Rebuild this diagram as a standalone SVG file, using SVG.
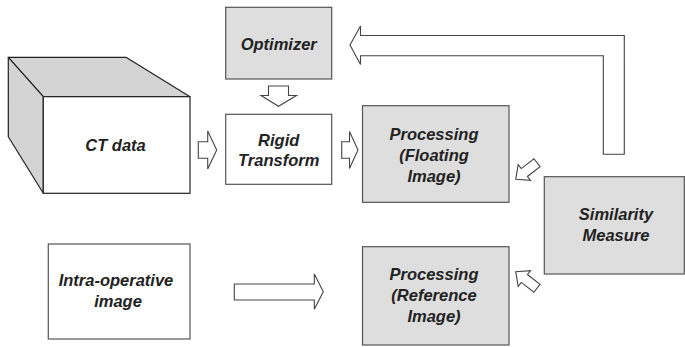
<svg xmlns="http://www.w3.org/2000/svg" width="685" height="347" viewBox="0 0 685 347">
<style>
.box{stroke:#555;stroke-width:1.2}
.w{fill:#fff}
.g{fill:#dedede}
.arr{fill:#fff;stroke:#444;stroke-width:1.1;stroke-linejoin:miter}
text{font-family:"Liberation Sans",Arial,sans-serif;font-weight:bold;font-style:italic;font-size:16.5px;fill:#222;text-anchor:middle}
</style>
<defs>
<path id="small" d="M0,0 L-11,-10 L-11,-5 L-27,-5 L-27,5 L-11,5 L-11,10 Z"/>
</defs>
<rect width="685" height="347" fill="#fff"/>
<g id="ct">
<polygon points="8.3,57.3 126,57.3 190,96.7 43.3,96.7" fill="#d4d4d4" stroke="#222" stroke-width="1.2" stroke-linejoin="round"/>
<polygon points="8.3,57.3 43.3,96.7 43.3,193.3 8.3,136.7" fill="#d4d4d4" stroke="#222" stroke-width="1.2" stroke-linejoin="round"/>
<rect x="43.3" y="96.7" width="146.7" height="96.6" fill="#fff" stroke="#222" stroke-width="1.2"/>
<text x="115.5" y="151">CT data</text>
</g>
<g id="optimizer">
<rect class="box g" x="225.7" y="7.3" width="106" height="71.7"/>
<text x="278.7" y="49.5">Optimizer</text>
</g>
<g id="rigid">
<rect class="box w" x="225.7" y="114.3" width="106" height="70"/>
<text x="278.7" y="145.7">Rigid</text>
<text x="278.7" y="166">Transform</text>
</g>
<g id="procfloat">
<rect class="box g" x="362.5" y="105.7" width="146.5" height="96.6"/>
<text x="434" y="139.5">Processing</text>
<text x="434" y="160.5">(Floating</text>
<text x="434" y="181.5">Image)</text>
</g>
<g id="procref">
<rect class="box g" x="362.5" y="246.7" width="146.5" height="98.3"/>
<text x="434" y="279.5">Processing</text>
<text x="434" y="300.5">(Reference</text>
<text x="434" y="321.5">Image)</text>
</g>
<g id="similarity">
<rect class="box g" x="544.3" y="176.7" width="140" height="97.3"/>
<text x="616" y="219.5">Similarity</text>
<text x="616" y="241">Measure</text>
</g>
<g id="intra">
<rect class="box w" x="48.3" y="244" width="141.7" height="95"/>
<text x="116" y="286">Intra-operative</text>
<text x="118" y="306.5">image</text>
</g>
<g id="connectors">
<polygon class="arr" points="198.3,141.7 207.7,141.7 207.7,131 216.7,150 207.7,169 207.7,158.3 198.3,158.3"/>
<polygon class="arr" points="341.7,141.7 349.5,141.7 349.5,131.5 358,150 349.5,168.5 349.5,158.3 341.7,158.3"/>
<polygon class="arr" points="268.5,86 288.5,86 288.5,95.5 296.5,95.5 278.5,106.3 261,95.5 268.5,95.5"/>
<polygon class="arr" points="350,45 360.5,26 360.5,35.5 624.3,35.5 624.3,154.3 603.3,154.3 603.3,55.7 360.5,55.7 360.5,64.5"/>
<polygon class="arr" points="234.3,284 314.3,284 314.3,274 323.3,291.7 314.3,309.3 314.3,300 234.3,300"/>
<use href="#small" class="arr" transform="translate(515.7,179.3) rotate(142)"/>
<use href="#small" class="arr" transform="translate(515.7,271.7) rotate(-142)"/>
</g>
</svg>
